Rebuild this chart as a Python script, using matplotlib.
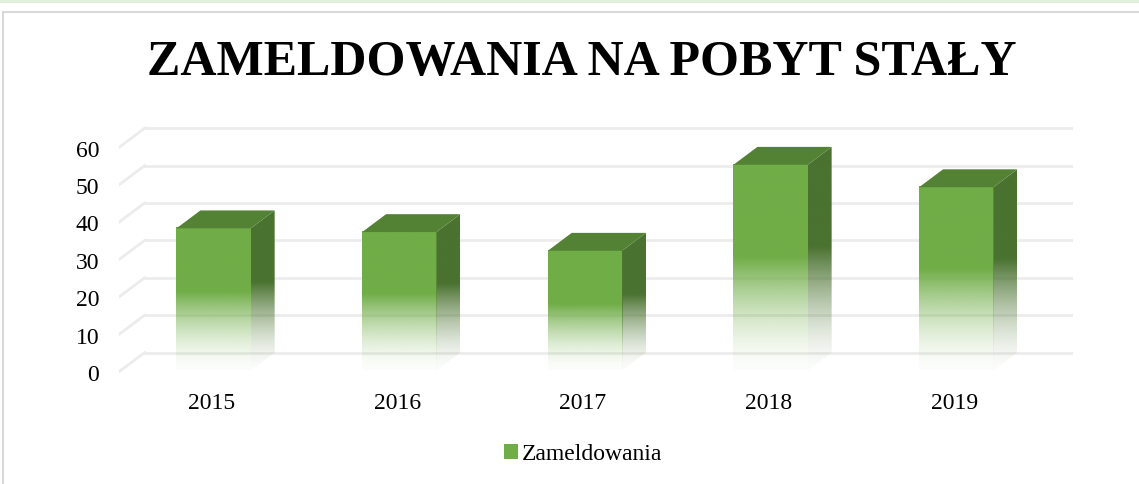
import numpy as np
import matplotlib.pyplot as plt
from matplotlib.patches import Polygon, Rectangle, Patch
from matplotlib.colors import to_rgb

## data
years = ["2015", "2016", "2017", "2018", "2019"]
zameldowania = [38, 37, 32, 55, 49]
yticks = [0, 10, 20, 30, 40, 50, 60]

## style
front_col = "#70AD47"
side_col = "#4A7230"
top_col = "#548235"
grid_col = "#ECECEC"
DX = 0.14      # depth offset in category units
DY = 5.2       # depth offset in value units
bar_w = 0.4
f0, f1 = 0.08, 1.0

plt.rcParams["font.family"] = ["Liberation Serif", "DejaVu Serif"]

W, H = 1139, 485
fig = plt.figure(figsize=(W / 100, H / 100), dpi=100)

## page decoration: green strip and chart border
fig.patches.append(Rectangle((0, 1 - 3.5 / H), 1, 3.5 / H, transform=fig.transFigure,
                             facecolor="#E2EFDA", edgecolor="none"))
fig.patches.append(Rectangle((3 / W, -0.1), 1.2, 1 - 13 / H + 0.1, transform=fig.transFigure,
                             facecolor="none", edgecolor="#D9D9D9", linewidth=1.5))

ax = fig.add_axes([118.7 / W, (H - 376.7) / H, 954.3 / W, (376.7 - 126.2) / H])
ax.set_xlim(-0.5, 4.5 + DX)
ax.set_ylim(-1, 66)
for s in ax.spines.values():
    s.set_visible(False)


def fade(rgb, n=300):
    # vertical gradient: solid on the upper part, fading to white at the bottom
    t = np.linspace(0, 1, n)
    alpha = np.clip(t / 0.55, 0, 1) ** 1.6
    alpha = 0.02 + 0.98 * alpha
    img = np.zeros((n, 1, 4))
    img[:, 0, :3] = rgb
    img[:, 0, 3] = alpha
    return img


## gridlines: back wall plus slanted floor edge on the left
x_left = -0.5
x_right = 4.5
for v in yticks:
    ax.plot([x_left + DX, x_right + DX], [v + DY, v + DY], color=grid_col, lw=2, zorder=1)
    ax.plot([x_left, x_left + DX], [v, v + DY], color=grid_col, lw=2, zorder=1)

## 3D bars
for i, v in enumerate(zameldowania):
    xl = i - bar_w / 2 + f0 * DX
    xr = i + bar_w / 2 + f0 * DX
    y0 = f0 * DY
    # front face
    ax.imshow(fade(to_rgb(front_col)), extent=(xl, xr, y0, v + y0), origin="lower",
              aspect="auto", zorder=3, interpolation="bilinear")
    # side face
    side = Polygon([(xr, y0), (xr + (f1 - f0) * DX, f1 * DY),
                    (xr + (f1 - f0) * DX, v + f1 * DY), (xr, v + y0)],
                   closed=True, facecolor="none", edgecolor="none")
    ax.add_patch(side)
    im = ax.imshow(fade(to_rgb(side_col)), extent=(xr, xr + (f1 - f0) * DX, y0, v + f1 * DY),
                   origin="lower", aspect="auto", zorder=3, interpolation="bilinear")
    im.set_clip_path(side)
    # top face
    ax.add_patch(Polygon([(xl, v + y0), (xr, v + y0),
                          (xr + (f1 - f0) * DX, v + f1 * DY), (xl + (f1 - f0) * DX, v + f1 * DY)],
                         closed=True, facecolor=top_col, edgecolor="none", zorder=4))

ax.set_xlim(-0.5, 4.5 + DX)
ax.set_ylim(-1, 66)
ax.set_xticks(range(len(years)))
ax.set_xticklabels(years, fontsize=17)
ax.set_yticks(yticks)
ax.set_yticklabels([str(t) for t in yticks], fontsize=17)
ax.tick_params(axis="x", length=0, pad=12)
ax.tick_params(axis="y", length=0, pad=14)

fig.text(582 / W, 1 - 63 / H, "ZAMELDOWANIA NA POBYT STAŁY", ha="center", va="center",
         fontsize=36, fontweight="bold")

fig.legend(handles=[Patch(facecolor=front_col, edgecolor="none", label="Zameldowania")],
           loc="center", bbox_to_anchor=(583 / W, 1 - 455 / H), frameon=False,
           fontsize=17, handlelength=0.6, handleheight=0.6, handletextpad=0.15)

fig.savefig("out.png", dpi=100)
